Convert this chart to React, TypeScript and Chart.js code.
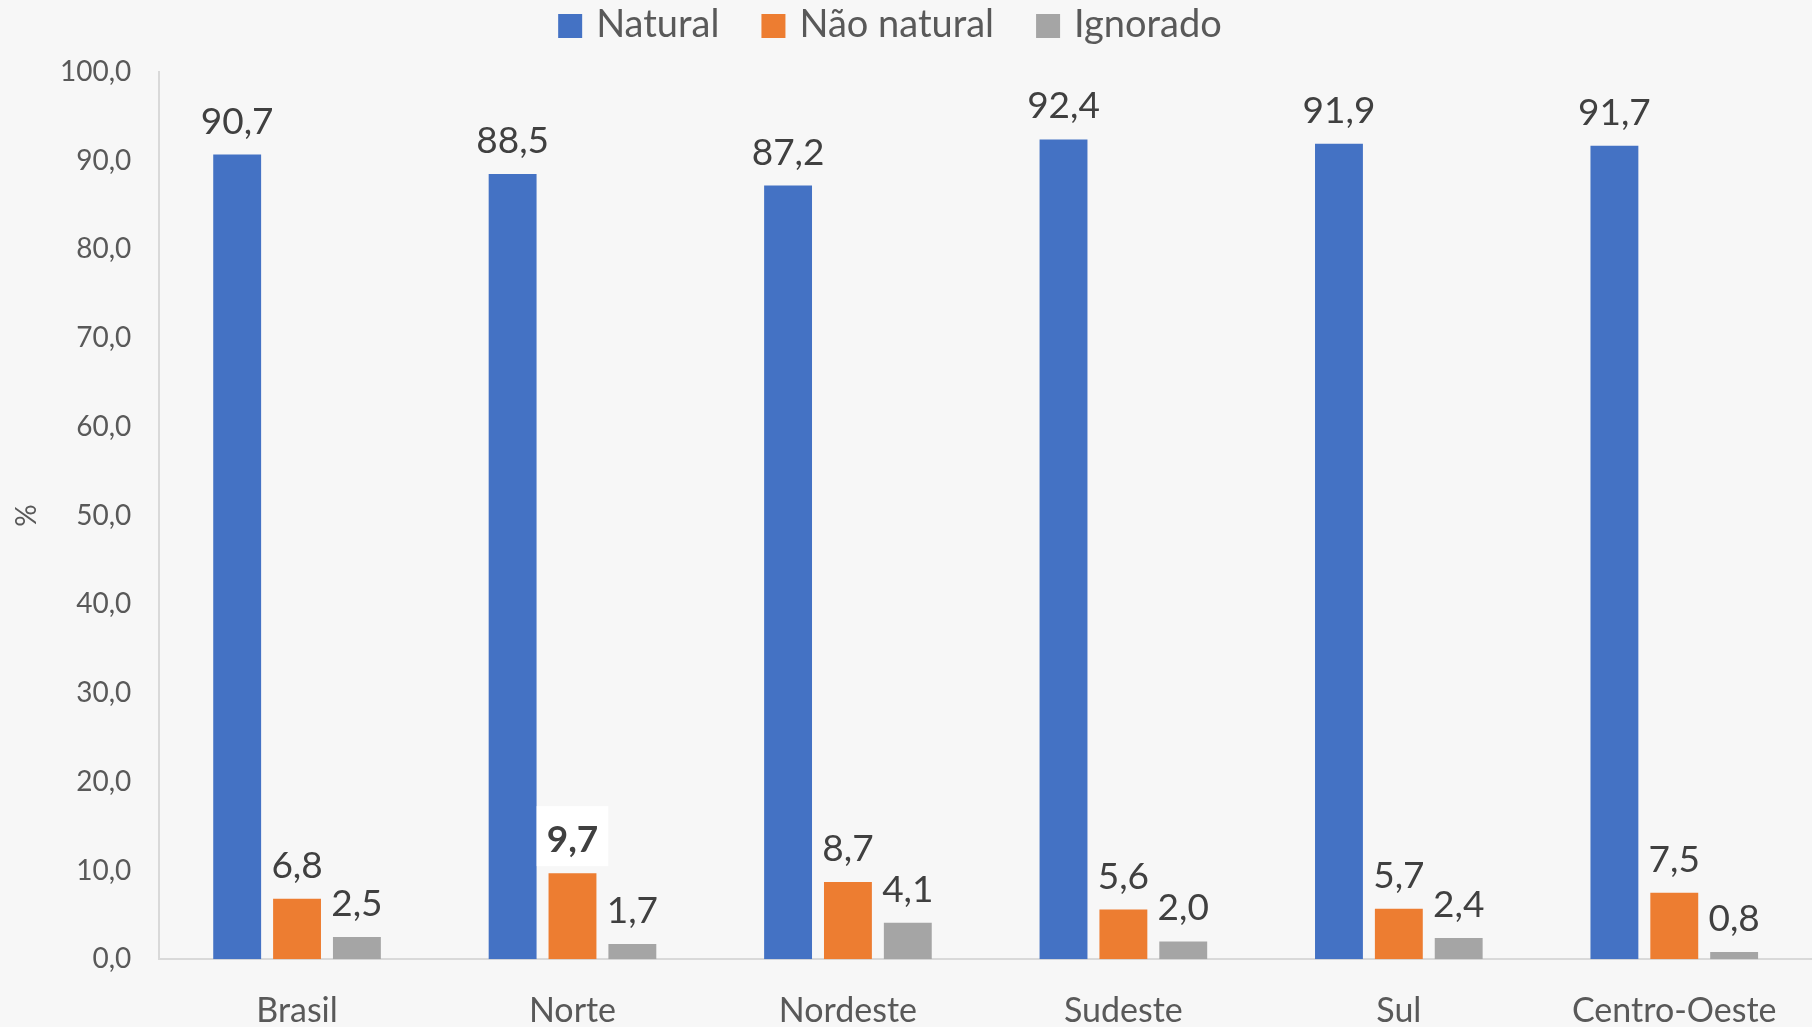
import React, { useEffect, useRef } from "react";
import { Chart, registerables } from "chart.js";

Chart.register(...registerables);

const categories = ["Brasil", "Norte", "Nordeste", "Sudeste", "Sul", "Centro-Oeste"];
const natural = [90.7, 88.5, 87.2, 92.4, 91.9, 91.7];
const naoNatural = [6.8, 9.7, 8.7, 5.6, 5.7, 7.5];
const ignorado = [2.5, 1.7, 4.1, 2.0, 2.4, 0.8];
const seriesNames = ["Natural", "Não natural", "Ignorado"];
const seriesColors = ["#4472C4", "#ED7D31", "#A5A5A5"];
const yMin = 0;
const yMax = 100;
const yStep = 10;
const yTitle = "%";
// highlighted label: dataset 1 (Não natural), category 1 (Norte)
const highlightDataset = 1;
const highlightIndex = 1;

const FONT = "Lato, 'Open Sans', sans-serif";
const TEXT = "#595959";
const LABEL = "#404040";

const fmt = (v: number) => v.toFixed(1).replace(".", ",");

const dataLabelPlugin = {
  id: "dataLabels",
  afterDatasetsDraw(chart: any) {
    const ctx = chart.ctx;
    ctx.save();
    chart.data.datasets.forEach((ds: any, di: number) => {
      const meta = chart.getDatasetMeta(di);
      meta.data.forEach((el: any, i: number) => {
        const v = ds.data[i] as number;
        const text = fmt(v);
        const hl = di === highlightDataset && i === highlightIndex;
        ctx.font = `${hl ? "bold " : ""}37px ${FONT}`;
        ctx.textAlign = "center";
        ctx.textBaseline = "alphabetic";
        const x = el.x;
        const y = el.y - 21;
        if (hl) {
          const w = ctx.measureText(text).width;
          ctx.fillStyle = "#FFFFFF";
          ctx.fillRect(x - w / 2 - 10, y - 46, w + 20, 60);
        }
        ctx.fillStyle = LABEL;
        ctx.fillText(text, x, y);
      });
    });
    ctx.restore();
  },
};

const decorPlugin = {
  id: "decor",
  afterDraw(chart: any) {
    const ctx = chart.ctx;
    ctx.save();
    // legend
    ctx.font = `38px ${FONT}`;
    const box = 24;
    const gapBoxText = 14;
    const gapItems = 42;
    const widths = seriesNames.map((n) => ctx.measureText(n).width);
    const total =
      widths.reduce((a, b) => a + b, 0) + seriesNames.length * (box + gapBoxText) + (seriesNames.length - 1) * gapItems;
    let x = 890 - total / 2;
    const baseline = 37;
    seriesNames.forEach((n, i) => {
      ctx.fillStyle = seriesColors[i];
      ctx.fillRect(x, 14, box, box);
      x += box + gapBoxText;
      ctx.fillStyle = TEXT;
      ctx.textAlign = "left";
      ctx.textBaseline = "alphabetic";
      ctx.fillText(n, x, baseline);
      x += widths[i] + gapItems;
    });
    // y-axis title
    const ca = chart.chartArea;
    ctx.translate(27, (ca.top + ca.bottom) / 2);
    ctx.rotate(-Math.PI / 2);
    ctx.font = `28px ${FONT}`;
    ctx.fillStyle = TEXT;
    ctx.textAlign = "center";
    ctx.textBaseline = "middle";
    ctx.fillText(yTitle, 0, 0);
    ctx.restore();
  },
};

export default function App() {
  const ref = useRef<HTMLCanvasElement | null>(null);
  useEffect(() => {
    if (!ref.current) return;
    const chart = new Chart(ref.current, {
      type: "bar",
      data: {
        labels: categories,
        datasets: [natural, naoNatural, ignorado].map((d, i) => ({
          label: seriesNames[i],
          data: d,
          backgroundColor: seriesColors[i],
          borderWidth: 0,
          categoryPercentage: 0.652,
          barPercentage: 0.8,
        })),
      },
      options: {
        responsive: false,
        animation: false,
        layout: { padding: { top: 72, left: 32, right: 0, bottom: 0 } },
        plugins: {
          legend: { display: false },
          tooltip: { enabled: false },
        },
        scales: {
          x: {
            grid: { display: false, drawTicks: false },
            border: { display: true, color: "#D9D9D9", width: 2 },
            ticks: {
              color: TEXT,
              font: { family: FONT, size: 34 },
              padding: 31,
              maxRotation: 0,
            },
          },
          y: {
            min: yMin,
            max: yMax,
            grid: { display: false, drawTicks: false },
            border: { display: true, color: "#D9D9D9", width: 2 },
            ticks: {
              stepSize: yStep,
              color: TEXT,
              font: { family: FONT, size: 28 },
              padding: 28,
              callback: (v: any) => fmt(Number(v)),
            },
          },
        },
      },
      plugins: [dataLabelPlugin, decorPlugin],
    });
    return () => chart.destroy();
  }, []);
  return (
    <div style={{ position: "fixed", left: 0, top: 0, width: 1812, height: 1027, background: "#F7F7F7", overflow: "hidden" }}>
      <canvas ref={ref} width={1812} height={1062} style={{ display: "block" }} />
    </div>
  );
}
